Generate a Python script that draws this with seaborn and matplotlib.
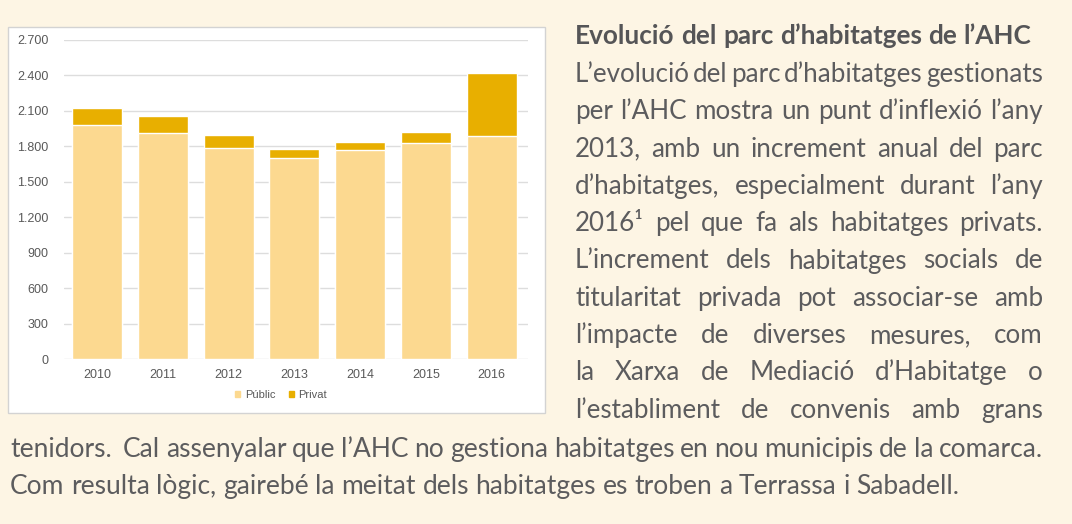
"""
Evolució del parc d'habitatges de l'AHC: stacked bars plus justified body text
"""

import matplotlib
matplotlib.use('Agg')
import matplotlib.pyplot as plt
from matplotlib.patches import Rectangle, Patch
import pandas as pd
import seaborn as sns

# Data
years = ['2010', '2011', '2012', '2013', '2014', '2015', '2016']
public = [1980, 1910, 1790, 1705, 1772, 1830, 1890]
private = [142, 145, 105, 75, 64, 88, 527]
y_ticks = [0, 300, 600, 900, 1200, 1500, 1800, 2100, 2400, 2700]

title_text = 'Evolució del parc d’habitatges de l’AHC'
right_lines = [
    'L’evolució del parc d’habitatges gestionats',
    'per l’AHC mostra un punt d’inflexió l’any',
    '2013, amb un increment anual del parc',
    'd’habitatges, especialment durant l’any',
    '2016¹ pel que fa als habitatges privats.',
    'L’increment dels habitatges socials de',
    'titularitat privada pot associar-se amb',
    'l’impacte de diverses mesures, com',
    'la Xarxa de Mediació d’Habitatge o',
    'l’establiment de convenis amb grans',
]
bottom_lines = [
    'tenidors.  Cal assenyalar que l’AHC no gestiona habitatges en nou municipis de la comarca.',
    'Com resulta lògic, gairebé la meitat dels habitatges es troben a Terrassa i Sabadell.',
]

W, H = 1072, 524
BG = '#FDF5E4'
PUBLIC_C = '#FCD990'
PRIVATE_C = '#E8AF00'
TEXT_C = '#5C5C5E'

sns.set_theme(style='white')
plt.rcParams['font.family'] = ['Liberation Sans', 'DejaVu Sans']

fig = plt.figure(figsize=(W / 100, H / 100), dpi=100, facecolor=BG)

# white chart box, kept behind the axes
box = Rectangle((8 / W, 1 - 413 / H), (545 - 8) / W, (413 - 27) / H,
                transform=fig.transFigure, facecolor='white',
                edgecolor='#D3D3D3', linewidth=1, zorder=-5)
fig.patches.append(box)

ax = fig.add_axes([64 / W, 1 - 359 / H, (528 - 64) / W, (359 - 40) / H], zorder=2)
ax.set_facecolor('white')

df = pd.DataFrame({'year': years, 'Públic': public, 'Privat': private})
df['total'] = df['Públic'] + df['Privat']

sns.barplot(data=df, x='year', y='total', color=PRIVATE_C, width=0.76,
            saturation=1, ax=ax, zorder=3)
sns.barplot(data=df, x='year', y='Públic', color=PUBLIC_C, width=0.76,
            saturation=1, ax=ax, zorder=3)

ax.set_ylim(0, 2700)
ax.set_xlim(-0.5, 6.55)
ax.set_yticks(y_ticks)
ax.set_yticklabels([f'{v:,}'.replace(',', '.') for v in y_ticks])
ax.grid(axis='y', color='#DDDDDD', linewidth=1, zorder=0)
ax.set_axisbelow(True)
for s in ax.spines.values():
    s.set_visible(False)
ax.set_xlabel('')
ax.set_ylabel('')
ax.tick_params(axis='y', length=0, pad=11, labelsize=9, labelcolor='#595959')
ax.tick_params(axis='x', length=0, pad=7, labelsize=9, labelcolor='#595959')

handles = [Patch(color=PUBLIC_C, label='Públic'), Patch(color=PRIVATE_C, label='Privat')]
fig.legend(handles=handles, loc='center', bbox_to_anchor=(281 / W, 1 - 395 / H),
           ncol=2, frameon=False, fontsize=8, handlelength=0.5, handleheight=0.5,
           handletextpad=0.4, columnspacing=1.2, labelcolor='#595959')

# ---- justified text ----
renderer = fig.canvas.get_renderer()
TEXT_FONT = ['Lato', 'DejaVu Sans']


def word_width(word, size, weight='normal'):
    t = fig.text(0, 0, word, fontsize=size, fontweight=weight, family=TEXT_FONT)
    w = t.get_window_extent(renderer).width
    t.remove()
    return w


def line_width(line, size, weight='normal', gap_em=0.25):
    words = line.split(' ')
    return sum(word_width(w, size, weight) for w in words if w) + \
        (len(words) - 1) * gap_em * size * 100 / 72


def draw_line(line, x0, x1, y, size, weight='normal', justify=True, color=TEXT_C):
    words = line.split(' ')
    widths = [word_width(w, size, weight) if w else 0 for w in words]
    if justify and len(words) > 1:
        gap = (x1 - x0 - sum(widths)) / (len(words) - 1)
    else:
        gap = 0.25 * size * 100 / 72
    x = x0
    for w, wd in zip(words, widths):
        if w:
            fig.text(x / W, 1 - y / H, w, fontsize=size, fontweight=weight,
                     family=TEXT_FONT, color=color, va='baseline', ha='left')
        x += wd + gap


# pick sizes so lines fit the column widths
ref = 20
title_size = ref * 452 / line_width(title_text, ref, 'bold', 0.22)
body_size = ref * 468 / line_width(right_lines[0], ref, gap_em=0.12)
bottom_size = ref * 1033 / line_width(bottom_lines[0], ref, gap_em=0.22)

draw_line(title_text, 575, 1027, 44, title_size, 'bold', justify=False, color='#555557')
for i, line in enumerate(right_lines):
    draw_line(line, 575, 1043, 82 + i * 37.3, body_size)
draw_line(bottom_lines[0], 10, 1043, 457, bottom_size)
draw_line(bottom_lines[1], 10, 1043, 494, bottom_size, justify=False)

fig.savefig('out.png', dpi=100, facecolor=BG)
